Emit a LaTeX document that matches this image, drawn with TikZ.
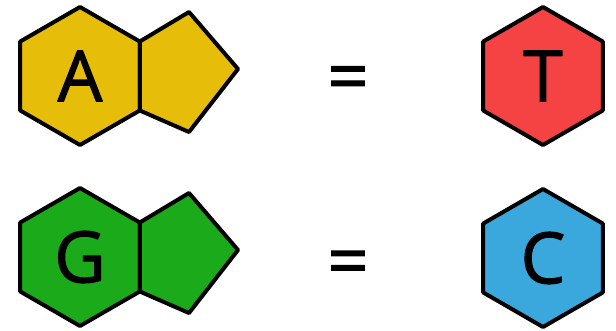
\documentclass[tikz,border=0pt]{standalone}
\usepackage{fontspec}
\setmainfont{Open Sans}
\newfontfamily\basefont[FakeBold=1.5]{Open Sans}
\usetikzlibrary{shapes.geometric}

\definecolor{adenine}{RGB}{230,190,10}
\definecolor{thymine}{RGB}{245,66,66}
\definecolor{guanine}{RGB}{26,170,26}
\definecolor{cytosine}{RGB}{58,168,220}

\tikzset{
    ring/.style={draw=black, line width=4pt, line join=round},
    base/.style={ring, regular polygon, regular polygon sides=6, shape border rotate=30,
        minimum size=138pt, inner sep=0pt, font=\basefont\fontsize{71}{71}\selectfont},
    equals/.style={inner sep=0pt, font=\basefont\fontsize{72}{72}\selectfont}
}

\begin{document}
\begin{tikzpicture}[x=1pt,y=1pt]
    \useasboundingbox (0,0) rectangle (616,330);

    % Draw purines: six ring with the five ring on its right
    \foreach \name/\y/\col in {A/254/adenine, G/73/guanine} {
        \node[base, fill=\col] (\name) at (80,\y) {\name};
        \begin{scope}[shift={(\name.center)}]
            \draw[ring, fill=\col] (59.8,34.5) -- (109,64) -- (158,7) -- (109,-56) -- (59.8,-34.5) -- cycle;
        \end{scope}
    }

    % Draw pyrimidines
    \node[base, fill=thymine] (T) at (543,254) {T};
    \node[base, fill=cytosine] (C) at (543,72) {C};

    % Pairing signs
    \node[equals] (eqAT) at (348,246) {=};
    \node[equals] (eqGC) at (348,61.5) {=};
\end{tikzpicture}
\end{document}
